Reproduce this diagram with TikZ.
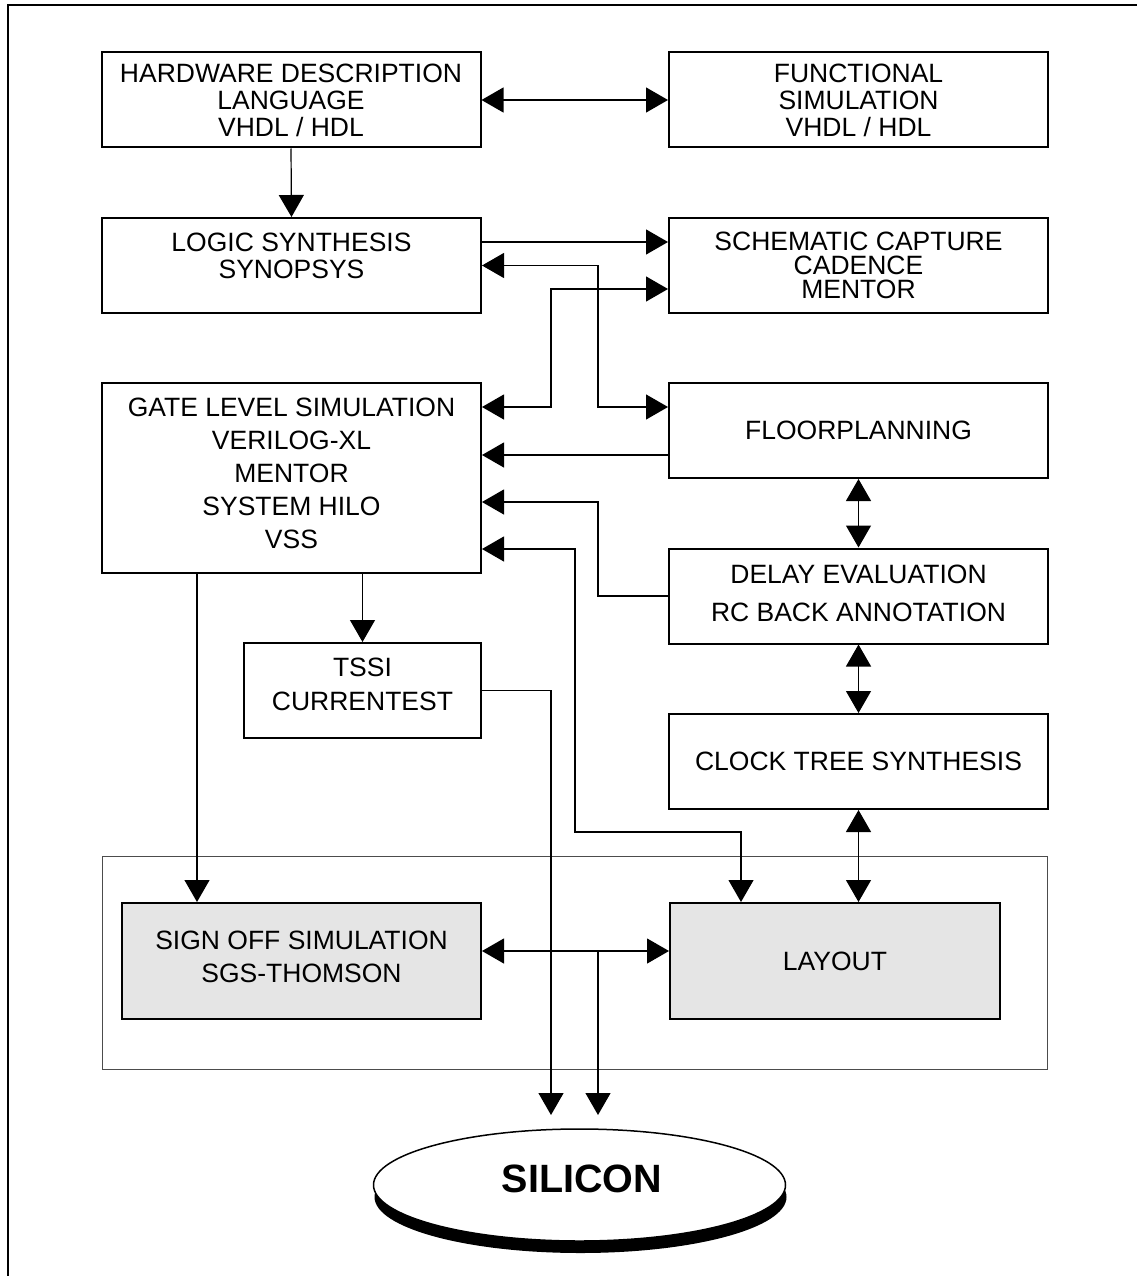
\documentclass[tikz,border=0pt]{standalone}
\usepackage{fontspec}
\setmainfont{Liberation Sans}
\usetikzlibrary{arrows.meta,shapes.geometric,calc}
\definecolor{boxgrey}{RGB}{229,229,229}
\begin{document}
\begin{tikzpicture}[x=1pt,y=-1pt,
  box/.style={draw=black, line width=2pt, minimum width=379pt, minimum height=95pt,
    inner sep=0pt, align=center, font=\fontsize{26.5pt}{27pt}\selectfont},
  conn/.style={line width=1.2pt, draw=black},
  arr/.style={conn, -{Triangle[length=22pt,width=25pt]}},
  both/.style={conn, {Triangle[length=22pt,width=25pt]}-{Triangle[length=22pt,width=25pt]}},
  grey/.style={fill=boxgrey}
]
\useasboundingbox (0,0) rectangle (1136,1276);
% outer frame
\draw[line width=2pt] (8,1300) -- (8,5) -- (1160,5);

% container
\node[draw=black!70, line width=1pt, minimum width=945pt, minimum height=213pt, inner sep=0pt] (grp) at (574.5,962.5) {};

% boxes
\node[box] (hdl) at (291,100) {HARDWARE DESCRIPTION\\LANGUAGE\\VHDL / HDL};
\node[box] (fun) at (858.5,100) {FUNCTIONAL\\SIMULATION\\VHDL / HDL};
\node[box] (ls) at (291.5,265.5) {LOGIC SYNTHESIS\\SYNOPSYS\\[-8pt]{}};
\node[box, font=\fontsize{26.5pt}{24pt}\selectfont] (sc) at (858.5,265.5) {SCHEMATIC CAPTURE\\CADENCE\\MENTOR};
\node[box, minimum height=190pt, font=\fontsize{26.5pt}{33pt}\selectfont] (gate) at (291.5,478) {GATE LEVEL SIMULATION\\VERILOG-XL\\MENTOR\\SYSTEM HILO\\VSS\\[-24pt]{}};
\node[box] (fp) at (858.5,430.5) {FLOORPLANNING};
\node[box, font=\fontsize{26.5pt}{38pt}\selectfont] (de) at (858.5,596) {DELAY EVALUATION\\RC BACK ANNOTATION\\[-33pt]{}};
\node[box, minimum width=237pt, font=\fontsize{26.5pt}{34pt}\selectfont] (tssi) at (362.5,690.5) {TSSI\\CURRENTEST\\[-22pt]{}};
\node[box] (ct) at (858.5,761.5) {CLOCK TREE SYNTHESIS};
\node[box, grey, minimum width=359pt, minimum height=116pt, font=\fontsize{26.5pt}{33pt}\selectfont] (so) at (301.5,961) {SIGN OFF SIMULATION\\SGS-THOMSON\\[-25pt]{}};
\node[box, grey, minimum width=330pt, minimum height=116pt] (lay) at (835,961) {LAYOUT};

% silicon
\fill[black] (580.5,1197) ellipse [x radius=206pt, y radius=56pt];
\node[ellipse, draw=black, line width=1.5pt, fill=white, minimum width=412pt, minimum height=112pt,
  inner sep=0pt, font=\bfseries\fontsize{39.5pt}{40pt}\selectfont] (sil) at (579.5,1185)
  {\hspace*{5pt}\raisebox{6pt}[\height][\depth]{SILICON}};

% reference coordinates
\coordinate (xA) at (598,0);
\coordinate (xB) at (551,0);
\coordinate (xE) at (197,0);
\coordinate (k) at (575,832);
\coordinate (s1) at (551,1115);
\coordinate (s2) at (598,1115);
\coordinate (g1) at ([yshift=71pt]gate.east);
\coordinate (g2) at ([yshift=23pt]gate.east);
\coordinate (g3) at ([yshift=-24pt]gate.east);
\coordinate (g4) at ([yshift=-71pt]gate.east);
\coordinate (lt) at ([xshift=-94pt]lay.north);
\coordinate (soR) at ([yshift=10pt]so.east);
\coordinate (layL) at ([yshift=10pt]lay.west);

% connectors
\draw[both] (hdl.east) -- (fun.west);
\draw[arr] (hdl.south) -- (ls.north);
\draw[arr] ([yshift=23.5pt]ls.east) -- ([yshift=23.5pt]sc.west);
\draw[both] (ls.east) -- (ls.east -| xA) |- ([yshift=23.5pt]fp.west);
\draw[both] (g1) -- (g1 -| xB) |- ([yshift=-23.5pt]sc.west);
\draw[arr] ([yshift=-24.5pt]fp.west) -- (g2);
\draw[both] (fp.south) -- (de.north);
\draw[arr] (de.west) -| (xA |- g3) -- (g3);
\draw[both] (g4) -| (k) -| (lt);
\draw[arr] (gate.south -| tssi.north) -- (tssi.north);
\draw[arr] (gate.south -| xE) -- (so.north -| xE);
\draw[arr] (tssi.east) -| (s1);
\draw[both] (soR) -- (layL);
\draw[arr] (soR -| xA) -- (s2);
\draw[both] (de.south) -- (ct.north);
\draw[both] (ct.south) -- (ct.south |- lay.north);
\end{tikzpicture}
\end{document}
